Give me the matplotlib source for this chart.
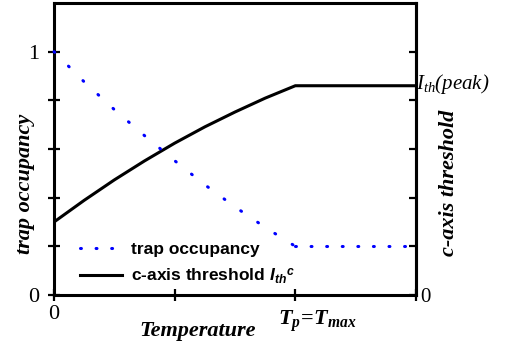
import matplotlib
matplotlib.use("Agg")
import matplotlib.pyplot as plt
from matplotlib.lines import Line2D

plt.rcParams['mathtext.fontset'] = 'custom'
plt.rcParams['mathtext.rm'] = 'Liberation Serif:bold'
plt.rcParams['mathtext.it'] = 'Liberation Serif:italic'
plt.rcParams['mathtext.bfit'] = 'Liberation Serif:italic:bold'
plt.rcParams['mathtext.sf'] = 'Liberation Sans:italic:bold'

# ---- data ----
temp_occ = [0.0, 0.25, 0.5, 0.75, 1.0, 1.25, 1.5, 1.75, 2.0, 3.0]
occupancy = [1.0, 0.876, 0.762, 0.655, 0.552, 0.453, 0.362, 0.278, 0.20, 0.20]

temp_thr = [0.0, 0.25, 0.5, 0.75, 1.0, 1.25, 1.5, 1.75, 2.0, 3.0]
threshold = [0.30, 0.389, 0.473, 0.551, 0.624, 0.691, 0.752, 0.809, 0.86, 0.86]

yticks_left = [0, 0.2, 0.4, 0.6, 0.8, 1.0]
yticklabels_left = ['0', '', '', '', '', '1']
xticks = [0, 1, 2, 3]
xticklabels = ['0', '', '', '']

W, H = 507, 349
fig = plt.figure(figsize=(W / 100, H / 100), dpi=100)
L, R, T, B = 54, 416, 3, 295
ax = fig.add_axes([L / W, 1 - B / H, (R - L) / W, (B - T) / H])

serif = 'Liberation Serif'
sans = 'Liberation Sans'
blue = '#0000ff'

ax.set_xlim(0, 3)
ax.set_ylim(0, 1.2)
for s in ax.spines.values():
    s.set_linewidth(2.2)

ax.set_yticks(yticks_left)
ax.set_yticklabels(yticklabels_left, fontfamily=serif, fontsize=16)
ax.tick_params(axis='y', direction='inout', length=9, width=1.6, pad=6)
ax.set_xticks(xticks)
ax.set_xticklabels(xticklabels, fontfamily=serif, fontsize=16)
ax.tick_params(axis='x', direction='inout', length=8, width=1.6, pad=3)

ax2 = ax.twinx()
ax2.set_ylim(0, 1.2)
ax2.set_yticks(yticks_left)
ax2.set_yticklabels(['0', '', '', '', '', ''], fontfamily=serif, fontsize=15)
ax2.tick_params(axis='y', direction='in', length=5, width=1.6, pad=3)
for k, s in ax2.spines.items():
    s.set_linewidth(2.2)
    s.set_visible(k == 'right')

# data drawn on the top-most axes so the spines do not hide the first dot
# trap occupancy: dotted (sloped part and flat part)
n_knee = 8
ax2.plot(temp_occ[:n_knee + 1], occupancy[:n_knee + 1], color=blue, lw=2.2,
         dashes=(0.3, 6.4), dash_capstyle='round', zorder=3, clip_on=False)
ax2.plot(temp_occ[n_knee:], occupancy[n_knee:], color=blue, lw=2.2,
         dashes=(0.3, 4.8), dash_capstyle='round', zorder=3)
# c-axis threshold
ax2.plot(temp_thr, threshold, color='black', lw=2.2, solid_joinstyle='miter')

# x-axis special label
ax.annotate(r'$\mathbfit{T}_{\mathbfit{p}}\!=\!\mathbfit{T}_{\mathbfit{max}}$',
            xy=(2, 0), xycoords=('data', 'axes fraction'),
            xytext=(-17, -14), textcoords='offset pixels',
            ha='left', va='top', fontsize=16, annotation_clip=False)

# right label for peak
ax.text(3.0, 0.846, r'$\mathit{I}_{\mathit{th}}$(peak)', fontfamily=serif,
        style='italic', fontsize=15, ha='left', va='baseline', clip_on=False)

# axis titles
fig.text(198 / W, 1 - 331 / H, 'Temperature', fontfamily=serif, style='italic',
         weight='bold', fontsize=16, ha='center', va='center')
fig.text(25 / W, 1 - 184 / H, 'trap occupancy', fontfamily=serif, style='italic',
         weight='bold', fontsize=16, ha='center', va='center', rotation=90)
fig.text(449 / W, 1 - 183 / H, 'c-axis threshold', fontfamily=serif, style='italic',
         weight='bold', fontsize=16, ha='center', va='center', rotation=90)

# legend
h1 = Line2D([], [], color=blue, lw=2.2, dashes=(0.3, 4.8), dash_capstyle='round')
h2 = Line2D([], [], color='black', lw=2.2)
leg = ax2.legend([h1, h2],
                 ['trap occupancy', r'c-axis threshold $\mathsf{I}_{\mathsf{th}}{}^{\mathsf{c}}$'],
                 loc='upper left', bbox_to_anchor=(80 / W, 1 - 242 / H),
                 bbox_transform=fig.transFigure, frameon=False,
                 prop={'family': sans, 'weight': 'bold', 'size': 12.5},
                 handlelength=2.4, handletextpad=0.55, labelspacing=0.55,
                 borderpad=0, borderaxespad=0)

fig.savefig('out.png', dpi=100)
